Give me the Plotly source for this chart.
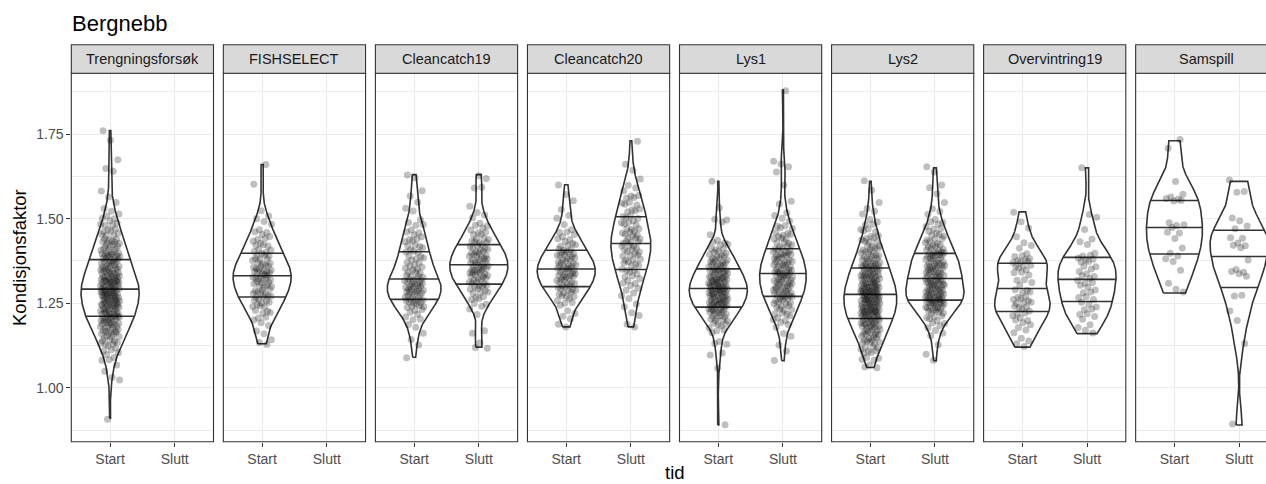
import numpy as np
import plotly.graph_objects as go

# ---------------- data (Kondisjonsfaktor x 100) ----------------
panels = ["Trengningsforsøk", "FISHSELECT", "Cleancatch19", "Cleancatch20",
          "Lys1", "Lys2", "Overvintring19", "Samspill"]
tid_levels = ["Start", "Slutt"]
y_ticks = [1.00, 1.25, 1.50, 1.75]
y_minor = [0.875, 1.125, 1.375, 1.625, 1.875]

treng_start = [91, 102, 103, 105, 107, 108, 108, 109, 110, 110, 111, 111, 112, 112,
 113, 113, 113, 113, 114, 114, 114, 115, 115, 115, 115, 116, 116, 116, 116,
 117, 117, 117, 117, 117, 118, 118, 118, 118, 118, 119, 119, 119, 119, 119, 119,
 120, 120, 120, 120, 120, 120, 121, 121, 121, 121, 121, 121, 121,
 122, 122, 122, 122, 122, 122, 122, 122, 123, 123, 123, 123, 123, 123,
 124, 124, 124, 124, 124, 124, 124, 125, 125, 125, 125, 125, 125, 125,
 126, 126, 126, 126, 126, 126, 126, 126, 127, 127, 127, 127, 127, 127, 127, 127,
 128, 128, 128, 128, 128, 128, 128, 128, 128, 129, 129, 129, 129, 129, 129, 129, 129,
 130, 130, 130, 130, 130, 130, 130, 130, 131, 131, 131, 131, 131, 131, 131,
 132, 132, 132, 132, 132, 132, 132, 132, 133, 133, 133, 133, 133, 133, 133,
 134, 134, 134, 134, 134, 134, 135, 135, 135, 135, 135, 135, 135,
 136, 136, 136, 136, 136, 137, 137, 137, 137, 137, 137, 138, 138, 138, 138, 138,
 139, 139, 139, 139, 139, 139, 140, 140, 140, 140, 140, 141, 141, 141, 141,
 142, 142, 142, 142, 143, 143, 143, 143, 143, 144, 144, 144, 145, 145, 145,
 146, 146, 146, 147, 147, 148, 148, 148, 149, 149, 150, 150, 151, 151,
 152, 153, 155, 156, 158, 164, 165, 167, 173, 176]

fish_start = [113, 113, 114, 116, 117, 118, 119, 120, 121, 121, 122, 122, 123, 123,
 124, 124, 124, 125, 125, 125, 126, 126, 126, 127, 127, 127, 127, 128, 128, 128, 128,
 129, 129, 129, 130, 130, 130, 130, 131, 131, 131, 131, 132, 132, 132, 132, 132,
 133, 133, 133, 133, 134, 134, 134, 134, 134, 135, 135, 135, 135, 136, 136, 136, 136,
 137, 137, 137, 138, 138, 138, 138, 139, 139, 139, 140, 140, 140, 141, 141,
 142, 142, 142, 143, 143, 144, 144, 145, 145, 146, 146, 147, 148, 149, 150, 151, 152, 160, 166]

cc19_start = [109, 113, 114, 116, 118, 119, 120, 120, 121, 122, 122, 123, 123,
 124, 124, 124, 124, 125, 125, 125, 125, 126, 126, 126, 126, 126, 127, 127, 127, 127,
 128, 128, 128, 128, 128, 129, 129, 129, 129, 129, 130, 130, 130, 130, 130,
 131, 131, 131, 131, 131, 132, 132, 132, 132, 132, 133, 133, 133, 133, 134, 134, 134,
 135, 135, 135, 136, 136, 136, 137, 137, 138, 138, 138, 139, 139, 140, 140, 140,
 141, 141, 142, 142, 142, 143, 143, 144, 144, 145, 145, 146, 146, 147, 148, 148,
 149, 150, 152, 153, 155, 157, 158, 162, 163]

cc19_slutt = [112, 112, 113, 116, 117, 122, 123, 124, 125, 125, 126, 126, 127, 127,
 128, 128, 128, 129, 129, 129, 130, 130, 130, 130, 131, 131, 131, 131, 132, 132, 132, 132,
 133, 133, 133, 133, 134, 134, 134, 134, 134, 135, 135, 135, 135, 135, 136, 136, 136, 136, 136,
 137, 137, 137, 137, 137, 138, 138, 138, 138, 139, 139, 139, 139, 139, 140, 140, 140, 140,
 141, 141, 141, 141, 142, 142, 142, 143, 143, 143, 143, 144, 144, 144, 145, 145, 146, 146,
 147, 147, 148, 148, 149, 150, 151, 152, 154, 159, 159, 162, 163]

cc20_start = [118, 119, 120, 121, 122, 123, 124, 125, 125, 126, 126, 127, 127, 127,
 128, 128, 128, 129, 129, 129, 129, 130, 130, 130, 130, 131, 131, 131, 131, 132, 132, 132, 132,
 133, 133, 133, 133, 133, 134, 134, 134, 134, 134, 135, 135, 135, 135, 135, 136, 136, 136, 136, 136,
 137, 137, 137, 137, 138, 138, 138, 138, 139, 139, 139, 139, 140, 140, 140, 140,
 141, 141, 141, 142, 142, 142, 143, 143, 144, 144, 145, 145, 146, 146, 147, 148, 150, 151, 153, 155, 157, 160]

cc20_slutt = [118, 119, 121, 122, 124, 125, 126, 127, 128, 129, 129, 130, 131, 131, 132, 132,
 133, 133, 134, 134, 135, 135, 135, 136, 136, 137, 137, 137, 138, 138, 138, 139, 139, 139,
 140, 140, 140, 141, 141, 141, 142, 142, 142, 143, 143, 143, 143, 144, 144, 144, 145, 145, 145,
 146, 146, 146, 147, 147, 147, 148, 148, 149, 149, 149, 150, 150, 151, 151, 152, 152, 153, 153,
 154, 154, 155, 155, 156, 156, 157, 157, 158, 159, 160, 162, 164, 166, 173]

lys1_start = [89, 106, 110, 110, 113, 113, 114, 116, 117, 117, 118, 118, 119, 119, 119,
 120, 120, 120, 120, 121, 121, 121, 121, 122, 122, 122, 122, 122,
 123, 123, 123, 123, 123, 123, 124, 124, 124, 124, 124, 124,
 125, 125, 125, 125, 125, 125, 125, 126, 126, 126, 126, 126, 126, 126,
 127, 127, 127, 127, 127, 127, 127, 128, 128, 128, 128, 128, 128, 128, 128,
 129, 129, 129, 129, 129, 129, 129, 129, 130, 130, 130, 130, 130, 130, 130, 130,
 131, 131, 131, 131, 131, 131, 131, 132, 132, 132, 132, 132, 132, 132,
 133, 133, 133, 133, 133, 133, 134, 134, 134, 134, 134, 134,
 135, 135, 135, 135, 135, 135, 136, 136, 136, 136, 136, 137, 137, 137, 137, 137,
 138, 138, 138, 138, 139, 139, 139, 139, 140, 140, 140, 141, 141, 141,
 142, 142, 143, 143, 144, 145, 149, 150, 150, 153, 161]

lys1_slutt = [108, 111, 113, 115, 116, 118, 119, 119, 120, 120, 121, 121, 122, 122, 122,
 123, 123, 123, 124, 124, 124, 125, 125, 125, 125, 126, 126, 126, 126,
 127, 127, 127, 127, 127, 128, 128, 128, 128, 128, 129, 129, 129, 129, 129,
 130, 130, 130, 130, 130, 131, 131, 131, 131, 131, 132, 132, 132, 132, 132,
 133, 133, 133, 133, 133, 133, 134, 134, 134, 134, 134, 134,
 135, 135, 135, 135, 135, 136, 136, 136, 136, 136, 137, 137, 137, 137, 137,
 138, 138, 138, 138, 139, 139, 139, 139, 139, 140, 140, 140, 140, 141, 141, 141, 141,
 142, 142, 142, 143, 143, 143, 144, 144, 144, 145, 145, 145, 146, 146, 147, 147, 148, 148,
 149, 150, 151, 152, 154, 155, 160, 164, 165, 166, 167, 188]

lys2_start = [106, 106, 107, 108, 108, 109, 109, 110, 110, 111, 111, 111, 112, 112, 112,
 113, 113, 113, 114, 114, 114, 114, 115, 115, 115, 115, 116, 116, 116, 116, 116,
 117, 117, 117, 117, 117, 118, 118, 118, 118, 118, 118, 119, 119, 119, 119, 119, 119,
 120, 120, 120, 120, 120, 120, 120, 121, 121, 121, 121, 121, 121, 121,
 122, 122, 122, 122, 122, 122, 122, 122, 123, 123, 123, 123, 123, 123, 123, 123,
 124, 124, 124, 124, 124, 124, 124, 124, 125, 125, 125, 125, 125, 125, 125, 125,
 126, 126, 126, 126, 126, 126, 126, 126, 126, 127, 127, 127, 127, 127, 127, 127, 127,
 128, 128, 128, 128, 128, 128, 128, 128, 129, 129, 129, 129, 129, 129, 129, 129,
 130, 130, 130, 130, 130, 130, 130, 130, 131, 131, 131, 131, 131, 131, 131,
 132, 132, 132, 132, 132, 132, 132, 133, 133, 133, 133, 133, 133, 133,
 134, 134, 134, 134, 134, 134, 135, 135, 135, 135, 135, 135, 136, 136, 136, 136, 136, 136,
 137, 137, 137, 137, 137, 138, 138, 138, 138, 138, 139, 139, 139, 139,
 140, 140, 140, 140, 141, 141, 141, 141, 142, 142, 142, 143, 143, 143, 144, 144, 144,
 145, 145, 146, 146, 147, 147, 148, 148, 149, 150, 151, 152, 153, 155, 158, 161]

lys2_slutt = [108, 110, 113, 115, 116, 117, 118, 118, 119, 119, 120, 120, 121, 121, 121,
 122, 122, 122, 123, 123, 123, 123, 124, 124, 124, 124, 124, 124,
 125, 125, 125, 125, 125, 125, 125, 126, 126, 126, 126, 126, 126, 126, 126,
 127, 127, 127, 127, 127, 127, 127, 128, 128, 128, 128, 128, 128, 128,
 129, 129, 129, 129, 129, 129, 130, 130, 130, 130, 130, 130, 131, 131, 131, 131, 131, 131,
 132, 132, 132, 132, 132, 132, 133, 133, 133, 133, 133, 133, 134, 134, 134, 134, 134,
 135, 135, 135, 135, 135, 135, 136, 136, 136, 136, 136, 136, 137, 137, 137, 137, 137,
 138, 138, 138, 138, 138, 139, 139, 139, 139, 139, 140, 140, 140, 140, 140,
 141, 141, 141, 141, 142, 142, 142, 142, 143, 143, 143, 144, 144, 144, 145, 145, 145,
 146, 146, 147, 147, 148, 148, 149, 149, 150, 151, 152, 153, 155, 157, 159, 160, 164, 165]

over_start = [112, 113, 114, 115, 116, 117, 118, 119, 119, 120, 120, 121, 121, 122, 122,
 123, 123, 124, 124, 124, 125, 125, 125, 126, 126, 126, 127, 127, 128, 128, 129, 129,
 130, 131, 132, 132, 133, 134, 134, 135, 135, 136, 136, 136, 137, 137, 137, 138, 138, 138,
 139, 139, 140, 141, 142, 143, 145, 147, 149, 152]

over_slutt = [116, 117, 118, 119, 120, 121, 122, 122, 123, 123, 124, 125, 125, 126, 127, 127,
 128, 128, 129, 130, 130, 131, 131, 132, 132, 133, 133, 134, 134, 135, 136, 136, 137, 137,
 138, 138, 138, 139, 139, 140, 142, 143, 144, 147, 150, 151, 165]

sams_start = [128, 129, 131, 135, 137, 138, 139, 140, 141, 144, 146, 146, 147, 148, 148,
 149, 155, 155, 156, 156, 156, 157, 161, 171, 173]

sams_slutt = [89, 113, 120, 123, 127, 127, 133, 134, 134, 134, 135, 138, 141, 142, 142,
 143, 144, 144, 147, 148, 149, 150, 158, 158, 161]

groups = {
    ("Trengningsforsøk", "Start"): treng_start,
    ("FISHSELECT", "Start"): fish_start,
    ("Cleancatch19", "Start"): cc19_start,
    ("Cleancatch19", "Slutt"): cc19_slutt,
    ("Cleancatch20", "Start"): cc20_start,
    ("Cleancatch20", "Slutt"): cc20_slutt,
    ("Lys1", "Start"): lys1_start,
    ("Lys1", "Slutt"): lys1_slutt,
    ("Lys2", "Start"): lys2_start,
    ("Lys2", "Slutt"): lys2_slutt,
    ("Overvintring19", "Start"): over_start,
    ("Overvintring19", "Slutt"): over_slutt,
    ("Samspill", "Start"): sams_start,
    ("Samspill", "Slutt"): sams_slutt,
}

# ---------------- layout constants (pixels) ----------------
W, H = 1266, 484
left0, step, pw = 71.3, 152.05, 142.2
strip_top, panel_top, panel_bottom = 44.7, 73.3, 441.7
FONT = "Liberation Sans, Arial, sans-serif"
LINE = "#333333"
GRID = "#EBEBEB"


def kde(vals):
    v = np.asarray(vals, dtype=float) / 100.0
    n = len(v)
    sd = v.std(ddof=1)
    q75, q25 = np.percentile(v, [75, 25])
    lo = min(sd, (q75 - q25) / 1.34)
    if lo <= 0:
        lo = sd
    bw = 0.9 * lo * n ** -0.2
    ys = np.linspace(v.min(), v.max(), 512)
    dens = np.exp(-0.5 * ((ys[:, None] - v[None, :]) / bw) ** 2).sum(1) / (n * bw * np.sqrt(2 * np.pi))
    return ys, dens


all_vals = np.concatenate([np.asarray(g, float) for g in groups.values()]) / 100.0
ymin, ymax = all_vals.min(), all_vals.max()
R = ymax - ymin
yrange = [ymin - 0.05 * R, ymax + 0.05 * R]

fig = go.Figure()
shapes, annotations = [], []
layout_axes = {}

for p, name in enumerate(panels):
    sfx = "" if p == 0 else str(p + 1)
    xa, ya = "x" + sfx, "y" + sfx
    x0px = left0 + p * step
    x1px = x0px + pw
    d0 = x0px / W
    d1 = min(x1px, W) / W
    xr1 = -0.6 + 2.2 * (min(x1px, W) - x0px) / pw

    dens_list = []
    for ti, t in enumerate(tid_levels):
        if (name, t) in groups:
            ys, dens = kde(groups[(name, t)])
            dens_list.append((ti, t, ys, dens))
    maxd = max(d.max() for _, _, _, d in dens_list)

    for ti, t, ys, dens in dens_list:
        w = dens / maxd * 0.45
        px = np.concatenate([ti - w, (ti + w)[::-1], [ti - w[0]]])
        py = np.concatenate([ys, ys[::-1], [ys[0]]])
        fig.add_trace(go.Scatter(x=px, y=py, mode="lines", fill="toself", fillcolor="white",
                                 line=dict(color=LINE, width=1.6), hoverinfo="skip",
                                 showlegend=False, xaxis=xa, yaxis=ya))
        cum = np.cumsum(dens) / dens.sum()
        qx, qy = [], []
        for q in (0.25, 0.5, 0.75):
            yq = np.interp(q, cum, ys)
            wq = np.interp(yq, ys, w)
            qx += [ti - wq, ti + wq, None]
            qy += [yq, yq, None]
        fig.add_trace(go.Scatter(x=qx, y=qy, mode="lines", line=dict(color=LINE, width=1.6),
                                 hoverinfo="skip", showlegend=False, xaxis=xa, yaxis=ya))

    for ti, t, ys, dens in dens_list:
        vals = np.asarray(groups[(name, t)], float) / 100.0
        idx = np.arange(len(vals))
        jx = ((0.37 * (p + 1) + 0.21 * ti + idx * 0.6180339887) % 1.0) * 2 - 1
        jy = ((0.11 * (p + 1) + idx * 0.7548776662) % 1.0) * 2 - 1
        fig.add_trace(go.Scatter(x=ti + 0.15 * jx, y=vals + 0.004 * jy, mode="markers",
                                 marker=dict(size=7, color="rgba(0,0,0,0.25)", line=dict(width=0)),
                                 hoverinfo="skip", showlegend=False, xaxis=xa, yaxis=ya))

    layout_axes["xaxis" + sfx] = dict(
        domain=[d0, d1], range=[-0.6, xr1], anchor=ya, tickvals=[0, 1], ticktext=tid_levels,
        showgrid=True, gridcolor=GRID, gridwidth=1.4, zeroline=False, showline=False,
        ticks="outside", ticklen=4, tickwidth=1.1, tickcolor=LINE,
        tickfont=dict(family=FONT, size=14, color="#4D4D4D"), automargin=False, fixedrange=True)
    layout_axes["yaxis" + sfx] = dict(
        domain=[1 - panel_bottom / H, 1 - panel_top / H], range=yrange, anchor=xa,
        tickvals=y_ticks, ticktext=["%.2f" % v for v in y_ticks], showticklabels=(p == 0),
        ticks="outside" if p == 0 else "", ticklen=4, tickwidth=1.1, tickcolor=LINE,
        tickfont=dict(family=FONT, size=14, color="#4D4D4D"),
        showgrid=True, gridcolor=GRID, gridwidth=1.4, zeroline=False, showline=False,
        minor=dict(tickvals=y_minor, showgrid=True, gridcolor=GRID, gridwidth=0.7, ticks=""),
        automargin=False, fixedrange=True)

    shapes.append(dict(type="rect", xref="paper", yref="paper", x0=d0, x1=x1px / W,
                       y0=1 - panel_bottom / H, y1=1 - panel_top / H,
                       line=dict(color=LINE, width=1.1), fillcolor="rgba(0,0,0,0)", layer="above"))
    shapes.append(dict(type="rect", xref="paper", yref="paper", x0=d0, x1=x1px / W,
                       y0=1 - panel_top / H, y1=1 - strip_top / H,
                       line=dict(color=LINE, width=1.1), fillcolor="#D9D9D9", layer="above"))
    annotations.append(dict(text=name, xref="paper", yref="paper",
                            x=(x0px + pw / 2) / W, y=1 - (strip_top + panel_top) / 2 / H,
                            xanchor="center", yanchor="middle", showarrow=False,
                            font=dict(family=FONT, size=14.5, color="#1A1A1A")))

annotations.append(dict(text="Bergnebb", xref="paper", yref="paper", x=70 / W, y=1 - 23 / H,
                        xanchor="left", yanchor="middle", showarrow=False,
                        font=dict(family=FONT, size=22, color="black")))
annotations.append(dict(text="Kondisjonsfaktor", xref="paper", yref="paper", x=19.5 / W,
                        y=1 - 257.5 / H, xanchor="center", yanchor="middle", textangle=-90,
                        showarrow=False, font=dict(family=FONT, size=18.5, color="black")))
annotations.append(dict(text="tid", xref="paper", yref="paper", x=674.6 / W, y=0.001,
                        xanchor="center", yanchor="bottom", showarrow=False, borderpad=0,
                        font=dict(family=FONT, size=18.5, color="black")))

fig.update_layout(width=W, height=H, margin=dict(l=0, r=0, t=0, b=0),
                  paper_bgcolor="white", plot_bgcolor="white", showlegend=False,
                  font=dict(family=FONT), shapes=shapes, annotations=annotations,
                  **layout_axes)

fig.write_html("out.html")
